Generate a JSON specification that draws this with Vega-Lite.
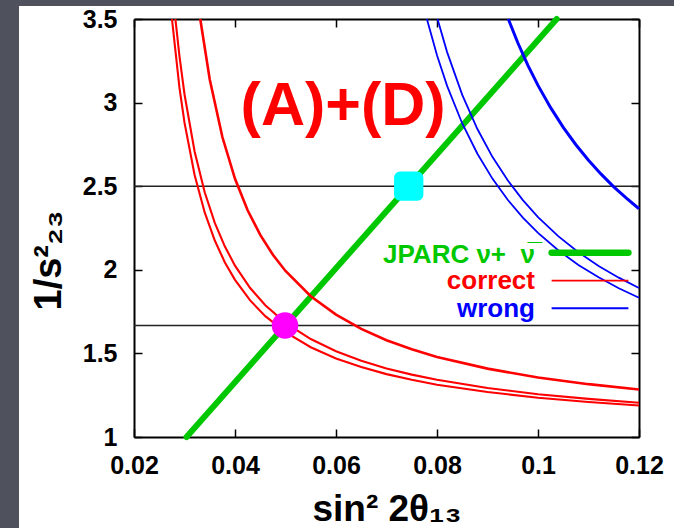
{
  "$schema": "https://vega.github.io/schema/vega-lite/v6.json",
  "autosize": {"type": "none"},
  "width": 505,
  "height": 418,
  "padding": {"left": 134, "top": 19, "right": 35, "bottom": 91},
  "background": "white",
  "config": {
    "view": {"stroke": null},
    "font": "Liberation Sans",
    "axis": {
      "grid": false,
      "zindex": 1,
      "labelFont": "Liberation Sans",
      "labelFontWeight": "bold",
      "labelFontSize": 25,
      "labelColor": "black",
      "labelFlush": false,
      "labelOverlap": false,
      "tickColor": "black",
      "tickSize": -8,
      "tickWidth": 1.5,
      "domainColor": "black",
      "domainWidth": 2,
      "titleFont": "Liberation Sans",
      "titleFontWeight": "bold",
      "titleColor": "black"
    }
  },
  "datasets": {
    "bg": [
      {"x": -0.0072, "x2": -0.00277, "y": 3.62, "y2": 0.44},
      {"x": -0.0072, "x2": 0.1280, "y": 3.62, "y2": 3.578}
    ],
    "hlines": [{"y": 2.5}, {"y": 1.6667}],
    "green": [
      {"series": "JPARC", "x": 0.0304, "y": 1.0},
      {"series": "JPARC", "x": 0.1037, "y": 3.5}
    ],
    "redthin": [
      {"series": "r1", "x": 0.02752, "y": 3.5},
      {"series": "r1", "x": 0.029, "y": 3.089},
      {"series": "r1", "x": 0.030, "y": 2.88},
      {"series": "r1", "x": 0.032, "y": 2.567},
      {"series": "r1", "x": 0.034, "y": 2.343},
      {"series": "r1", "x": 0.036, "y": 2.175},
      {"series": "r1", "x": 0.038, "y": 2.044},
      {"series": "r1", "x": 0.040, "y": 1.94},
      {"series": "r1", "x": 0.043, "y": 1.817},
      {"series": "r1", "x": 0.046, "y": 1.723},
      {"series": "r1", "x": 0.050, "y": 1.627},
      {"series": "r1", "x": 0.055, "y": 1.537},
      {"series": "r1", "x": 0.060, "y": 1.47},
      {"series": "r1", "x": 0.065, "y": 1.418},
      {"series": "r1", "x": 0.070, "y": 1.376},
      {"series": "r1", "x": 0.075, "y": 1.342},
      {"series": "r1", "x": 0.080, "y": 1.313},
      {"series": "r1", "x": 0.090, "y": 1.269},
      {"series": "r1", "x": 0.100, "y": 1.235},
      {"series": "r1", "x": 0.110, "y": 1.209},
      {"series": "r1", "x": 0.120, "y": 1.188},
      {"series": "r2", "x": 0.0282, "y": 3.5},
      {"series": "r2", "x": 0.029, "y": 3.278},
      {"series": "r2", "x": 0.030, "y": 3.05},
      {"series": "r2", "x": 0.032, "y": 2.708},
      {"series": "r2", "x": 0.034, "y": 2.464},
      {"series": "r2", "x": 0.036, "y": 2.281},
      {"series": "r2", "x": 0.038, "y": 2.139},
      {"series": "r2", "x": 0.040, "y": 2.025},
      {"series": "r2", "x": 0.043, "y": 1.891},
      {"series": "r2", "x": 0.046, "y": 1.788},
      {"series": "r2", "x": 0.050, "y": 1.683},
      {"series": "r2", "x": 0.055, "y": 1.586},
      {"series": "r2", "x": 0.060, "y": 1.513},
      {"series": "r2", "x": 0.065, "y": 1.456},
      {"series": "r2", "x": 0.070, "y": 1.41},
      {"series": "r2", "x": 0.075, "y": 1.373},
      {"series": "r2", "x": 0.080, "y": 1.342},
      {"series": "r2", "x": 0.090, "y": 1.293},
      {"series": "r2", "x": 0.100, "y": 1.256},
      {"series": "r2", "x": 0.110, "y": 1.228},
      {"series": "r2", "x": 0.120, "y": 1.205}
    ],
    "redthick": [
      {"series": "r3", "x": 0.03312, "y": 3.5},
      {"series": "r3", "x": 0.035, "y": 3.138},
      {"series": "r3", "x": 0.0375, "y": 2.794},
      {"series": "r3", "x": 0.040, "y": 2.544},
      {"series": "r3", "x": 0.0425, "y": 2.356},
      {"series": "r3", "x": 0.045, "y": 2.209},
      {"series": "r3", "x": 0.0475, "y": 2.09},
      {"series": "r3", "x": 0.050, "y": 1.993},
      {"series": "r3", "x": 0.055, "y": 1.842},
      {"series": "r3", "x": 0.060, "y": 1.732},
      {"series": "r3", "x": 0.065, "y": 1.647},
      {"series": "r3", "x": 0.070, "y": 1.579},
      {"series": "r3", "x": 0.075, "y": 1.525},
      {"series": "r3", "x": 0.080, "y": 1.479},
      {"series": "r3", "x": 0.090, "y": 1.409},
      {"series": "r3", "x": 0.100, "y": 1.356},
      {"series": "r3", "x": 0.110, "y": 1.316},
      {"series": "r3", "x": 0.120, "y": 1.284}
    ],
    "bluethin": [
      {"series": "b1", "x": 0.078, "y": 3.5},
      {"series": "b1", "x": 0.080, "y": 3.283},
      {"series": "b1", "x": 0.082, "y": 3.1},
      {"series": "b1", "x": 0.085, "y": 2.875},
      {"series": "b1", "x": 0.088, "y": 2.694},
      {"series": "b1", "x": 0.091, "y": 2.544},
      {"series": "b1", "x": 0.094, "y": 2.419},
      {"series": "b1", "x": 0.097, "y": 2.3125},
      {"series": "b1", "x": 0.100, "y": 2.221},
      {"series": "b1", "x": 0.104, "y": 2.117},
      {"series": "b1", "x": 0.108, "y": 2.029},
      {"series": "b1", "x": 0.112, "y": 1.955},
      {"series": "b1", "x": 0.116, "y": 1.89},
      {"series": "b1", "x": 0.120, "y": 1.833},
      {"series": "b2", "x": 0.0801, "y": 3.5},
      {"series": "b2", "x": 0.082, "y": 3.302},
      {"series": "b2", "x": 0.085, "y": 3.046},
      {"series": "b2", "x": 0.088, "y": 2.842},
      {"series": "b2", "x": 0.091, "y": 2.674},
      {"series": "b2", "x": 0.094, "y": 2.535},
      {"series": "b2", "x": 0.097, "y": 2.417},
      {"series": "b2", "x": 0.100, "y": 2.315},
      {"series": "b2", "x": 0.104, "y": 2.201},
      {"series": "b2", "x": 0.108, "y": 2.105},
      {"series": "b2", "x": 0.112, "y": 2.023},
      {"series": "b2", "x": 0.116, "y": 1.953},
      {"series": "b2", "x": 0.120, "y": 1.891}
    ],
    "bluethick": [
      {"series": "b3", "x": 0.09412, "y": 3.5},
      {"series": "b3", "x": 0.096, "y": 3.358},
      {"series": "b3", "x": 0.098, "y": 3.223},
      {"series": "b3", "x": 0.100, "y": 3.103},
      {"series": "b3", "x": 0.1025, "y": 2.97},
      {"series": "b3", "x": 0.105, "y": 2.852},
      {"series": "b3", "x": 0.1075, "y": 2.748},
      {"series": "b3", "x": 0.110, "y": 2.655},
      {"series": "b3", "x": 0.1125, "y": 2.572},
      {"series": "b3", "x": 0.115, "y": 2.496},
      {"series": "b3", "x": 0.1175, "y": 2.428},
      {"series": "b3", "x": 0.120, "y": 2.365}
    ],
    "legendlines": [
      {"item": "JPARC", "x": 0.1027, "x2": 0.1179, "y": 2.102},
      {"item": "correct", "x": 0.1027, "x2": 0.1179, "y": 1.935},
      {"item": "wrong", "x": 0.1027, "x2": 0.1179, "y": 1.770}
    ],
    "legendtext": [
      {"item": "JPARC", "label": "JPARC ν+\u00a0\u00a0ν\u0305", "x": 0.0994, "y": 2.039},
      {"item": "correct", "label": "correct", "x": 0.0994, "y": 1.883},
      {"item": "wrong", "label": "wrong", "x": 0.0994, "y": 1.716}
    ],
    "pink": [{"x": 0.0499, "y": 1.667}],
    "cyan": [{"x": 0.0744, "y": 2.5}],
    "anno": [{"label": "(A)+(D)", "x": 0.0614, "y": 2.866}]
  },
  "layer": [
    {
      "data": {"name": "bg"},
      "mark": {"type": "rect", "color": "#4f515d"},
      "encoding": {
        "x": {"field": "x", "type": "quantitative", "scale": {"domain": [0.02, 0.12], "nice": false, "zero": false}, "axis": null},
        "x2": {"field": "x2"},
        "y": {"field": "y", "type": "quantitative", "scale": {"domain": [1, 3.5], "nice": false, "zero": false}, "axis": null},
        "y2": {"field": "y2"}
      }
    },
    {
      "data": {"name": "hlines"},
      "mark": {"type": "rule", "color": "#222222", "strokeWidth": 1.4},
      "encoding": {
        "y": {"field": "y", "type": "quantitative", "scale": {"domain": [1, 3.5], "nice": false, "zero": false}, "axis": null}
      }
    },
    {
      "data": {"name": "green"},
      "mark": {"type": "line", "color": "#00c800", "strokeWidth": 6, "strokeCap": "round"},
      "encoding": {
        "x": {"field": "x", "type": "quantitative", "scale": {"domain": [0.02, 0.12], "nice": false, "zero": false},
          "axis": {"orient": "bottom", "values": [0.02, 0.04, 0.06, 0.08, 0.1, 0.12], "labelExpr": "'' + datum.value", "labelPadding": 24, "title": "sin² 2θ₁₃", "titleFontSize": 37, "titleY": 83, "titleBaseline": "alphabetic"}},
        "y": {"field": "y", "type": "quantitative", "scale": {"domain": [1, 3.5], "nice": false, "zero": false},
          "axis": {"orient": "left", "values": [1, 1.5, 2, 2.5, 3, 3.5], "labelExpr": "'' + datum.value", "labelPadding": 25, "title": "1/s²₂₃", "titleFontSize": 38, "titleX": -74, "titleY": 241, "titleBaseline": "alphabetic", "titleAngle": 270}},
        "detail": {"field": "series"}
      }
    },
    {
      "data": {"name": "redthin"},
      "mark": {"type": "line", "color": "#ff0000", "strokeWidth": 2.1},
      "encoding": {
        "x": {"field": "x", "type": "quantitative", "scale": {"domain": [0.02, 0.12], "nice": false, "zero": false}, "axis": null},
        "y": {"field": "y", "type": "quantitative", "scale": {"domain": [1, 3.5], "nice": false, "zero": false}, "axis": null},
        "detail": {"field": "series"}
      }
    },
    {
      "data": {"name": "redthick"},
      "mark": {"type": "line", "color": "#ff0000", "strokeWidth": 2.6},
      "encoding": {
        "x": {"field": "x", "type": "quantitative", "scale": {"domain": [0.02, 0.12], "nice": false, "zero": false}, "axis": null},
        "y": {"field": "y", "type": "quantitative", "scale": {"domain": [1, 3.5], "nice": false, "zero": false}, "axis": null},
        "detail": {"field": "series"}
      }
    },
    {
      "data": {"name": "bluethin"},
      "mark": {"type": "line", "color": "#0000ff", "strokeWidth": 1.8},
      "encoding": {
        "x": {"field": "x", "type": "quantitative", "scale": {"domain": [0.02, 0.12], "nice": false, "zero": false}, "axis": null},
        "y": {"field": "y", "type": "quantitative", "scale": {"domain": [1, 3.5], "nice": false, "zero": false}, "axis": null},
        "detail": {"field": "series"}
      }
    },
    {
      "data": {"name": "bluethick"},
      "mark": {"type": "line", "color": "#0000ff", "strokeWidth": 3},
      "encoding": {
        "x": {"field": "x", "type": "quantitative", "scale": {"domain": [0.02, 0.12], "nice": false, "zero": false}, "axis": null},
        "y": {"field": "y", "type": "quantitative", "scale": {"domain": [1, 3.5], "nice": false, "zero": false}, "axis": null},
        "detail": {"field": "series"}
      }
    },
    {
      "data": {"name": "legendlines"},
      "transform": [{"filter": "datum.item === 'JPARC'"}],
      "mark": {"type": "rule", "color": "#00c800", "strokeWidth": 6.5, "strokeCap": "round"},
      "encoding": {
        "x": {"field": "x", "type": "quantitative", "scale": {"domain": [0.02, 0.12], "nice": false, "zero": false}, "axis": null},
        "x2": {"field": "x2"},
        "y": {"field": "y", "type": "quantitative", "scale": {"domain": [1, 3.5], "nice": false, "zero": false}, "axis": null}
      }
    },
    {
      "data": {"name": "legendlines"},
      "transform": [{"filter": "datum.item !== 'JPARC'"}],
      "mark": {"type": "rule", "strokeWidth": 1.8},
      "encoding": {
        "x": {"field": "x", "type": "quantitative", "scale": {"domain": [0.02, 0.12], "nice": false, "zero": false}, "axis": null},
        "x2": {"field": "x2"},
        "y": {"field": "y", "type": "quantitative", "scale": {"domain": [1, 3.5], "nice": false, "zero": false}, "axis": null},
        "color": {"field": "item", "type": "nominal", "scale": {"domain": ["JPARC", "correct", "wrong"], "range": ["#00c800", "#ff0000", "#0000ff"]}, "legend": null}
      }
    },
    {
      "data": {"name": "legendtext"},
      "mark": {"type": "text", "align": "right", "baseline": "alphabetic", "font": "Liberation Sans", "fontWeight": "bold", "fontSize": 26},
      "encoding": {
        "x": {"field": "x", "type": "quantitative", "scale": {"domain": [0.02, 0.12], "nice": false, "zero": false}, "axis": null},
        "y": {"field": "y", "type": "quantitative", "scale": {"domain": [1, 3.5], "nice": false, "zero": false}, "axis": null},
        "text": {"field": "label"},
        "color": {"field": "item", "type": "nominal", "scale": {"domain": ["JPARC", "correct", "wrong"], "range": ["#00c800", "#ff0000", "#0000ff"]}, "legend": null}
      }
    },
    {
      "data": {"name": "anno"},
      "mark": {"type": "text", "align": "center", "baseline": "alphabetic", "font": "Liberation Sans", "fontWeight": "bold", "fontSize": 61, "color": "#ff0000"},
      "encoding": {
        "x": {"field": "x", "type": "quantitative", "scale": {"domain": [0.02, 0.12], "nice": false, "zero": false}, "axis": null},
        "y": {"field": "y", "type": "quantitative", "scale": {"domain": [1, 3.5], "nice": false, "zero": false}, "axis": null},
        "text": {"field": "label"}
      }
    },
    {
      "data": {"name": "cyan"},
      "mark": {"type": "point", "shape": "square", "filled": true, "size": 300, "color": "#00ffff", "stroke": "#00ffff", "strokeWidth": 12, "strokeJoin": "round", "opacity": 1},
      "encoding": {
        "x": {"field": "x", "type": "quantitative", "scale": {"domain": [0.02, 0.12], "nice": false, "zero": false}, "axis": null},
        "y": {"field": "y", "type": "quantitative", "scale": {"domain": [1, 3.5], "nice": false, "zero": false}, "axis": null}
      }
    },
    {
      "data": {"name": "pink"},
      "mark": {"type": "point", "shape": "circle", "filled": true, "size": 700, "color": "#ff00ff", "opacity": 1},
      "encoding": {
        "x": {"field": "x", "type": "quantitative", "scale": {"domain": [0.02, 0.12], "nice": false, "zero": false},
          "axis": {"orient": "top", "values": [0.02, 0.04, 0.06, 0.08, 0.1, 0.12], "labels": false, "title": null}},
        "y": {"field": "y", "type": "quantitative", "scale": {"domain": [1, 3.5], "nice": false, "zero": false},
          "axis": {"orient": "right", "values": [1, 1.5, 2, 2.5, 3, 3.5], "labels": false, "title": null}}
      }
    }
  ]
}
